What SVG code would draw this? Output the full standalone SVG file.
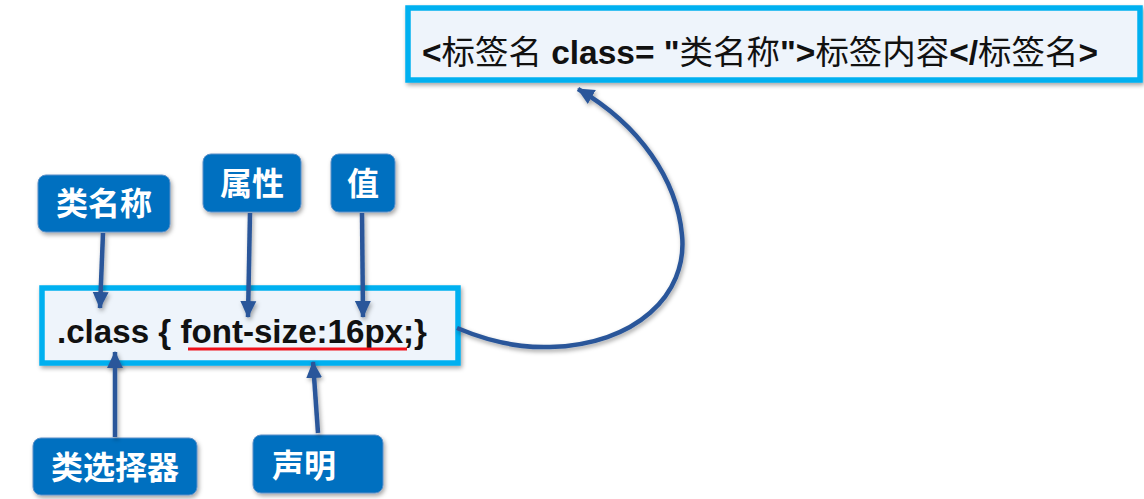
<svg xmlns="http://www.w3.org/2000/svg" width="1144" height="499" viewBox="0 0 1144 499">
<style>
.box{fill:#EEF4FB;stroke:#00B0F0;stroke-width:5.5}
.lbl{fill:#0070C0;stroke:#5A8FC8;stroke-width:1}
.lt{fill:#FFFFFF;font-family:"Noto Sans CJK SC","Liberation Sans",sans-serif;font-weight:bold;font-size:32px}
.code{fill:#111111;font-family:"Liberation Sans","Noto Sans CJK SC",sans-serif;font-size:33px;font-weight:bold}
.cjk{font-weight:normal;font-family:"Noto Sans CJK SC",sans-serif}
.arr{fill:none;stroke:#2A579A;stroke-width:4.5;marker-end:url(#ah)}
</style>
<defs>
<marker id="ah" markerUnits="userSpaceOnUse" markerWidth="18" markerHeight="18" viewBox="0 0 18 18" refX="16" refY="9" orient="auto">
<path d="M0,1 L17,9 L0,17 Z" fill="#2A579A"/>
</marker>
<filter id="sh" x="-20%" y="-20%" width="140%" height="150%">
<feDropShadow dx="1.5" dy="2.5" stdDeviation="2" flood-color="#000" flood-opacity="0.35"/>
</filter>
</defs>
<rect width="1144" height="499" fill="#FFFFFF"/>
<g id="tag-box">
<rect class="box" x="408" y="8" width="732" height="72" filter="url(#sh)"/>
<text class="code" x="422" y="64" font-size="32" textLength="676" lengthAdjust="spacingAndGlyphs">&lt;<tspan class="cjk">标签名</tspan> class= "<tspan class="cjk">类名称</tspan>"&gt;<tspan class="cjk">标签内容</tspan>&lt;/<tspan class="cjk">标签名</tspan>&gt;</text>
</g>
<g id="css-box">
<rect class="box" x="42" y="288" width="416" height="75" filter="url(#sh)"/>
<text class="code" x="57" y="343" textLength="370" lengthAdjust="spacingAndGlyphs">.class { font-size:16px;}</text>
<line x1="188" y1="349" x2="407" y2="349" stroke="#F0101A" stroke-width="3"/>
</g>
<g id="label-classname">
<rect class="lbl" x="38" y="175" width="132" height="57" rx="8" filter="url(#sh)"/>
<text class="lt" x="104" y="215" text-anchor="middle">类名称</text>
</g>
<g id="label-property">
<rect class="lbl" x="203" y="154" width="98" height="58" rx="8" filter="url(#sh)"/>
<text class="lt" x="252" y="195" text-anchor="middle">属性</text>
</g>
<g id="label-value">
<rect class="lbl" x="331" y="154" width="64" height="58" rx="8" filter="url(#sh)"/>
<text class="lt" x="363" y="195" text-anchor="middle">值</text>
</g>
<g id="label-selector">
<rect class="lbl" x="33" y="438" width="164" height="57" rx="8" filter="url(#sh)"/>
<text class="lt" x="115" y="479" text-anchor="middle">类选择器</text>
</g>
<g id="label-declaration">
<rect class="lbl" x="253" y="435" width="130" height="58" rx="8" filter="url(#sh)"/>
<text class="lt" x="272" y="477">声明</text>
</g>
<g id="connectors" filter="url(#sh)">
<path class="arr" d="M103,233 L100,308"/>
<path class="arr" d="M250,213 L248,317"/>
<path class="arr" d="M362,213 L363,317"/>
<path class="arr" d="M115,437 L115,352"/>
<path class="arr" d="M318,433 L313,362"/>
<path class="arr" d="M457,328 C490,342 520,348 550,347 C635,345 688,295 682,235 C677,180 640,125 578,89"/>
</g>
</svg>
